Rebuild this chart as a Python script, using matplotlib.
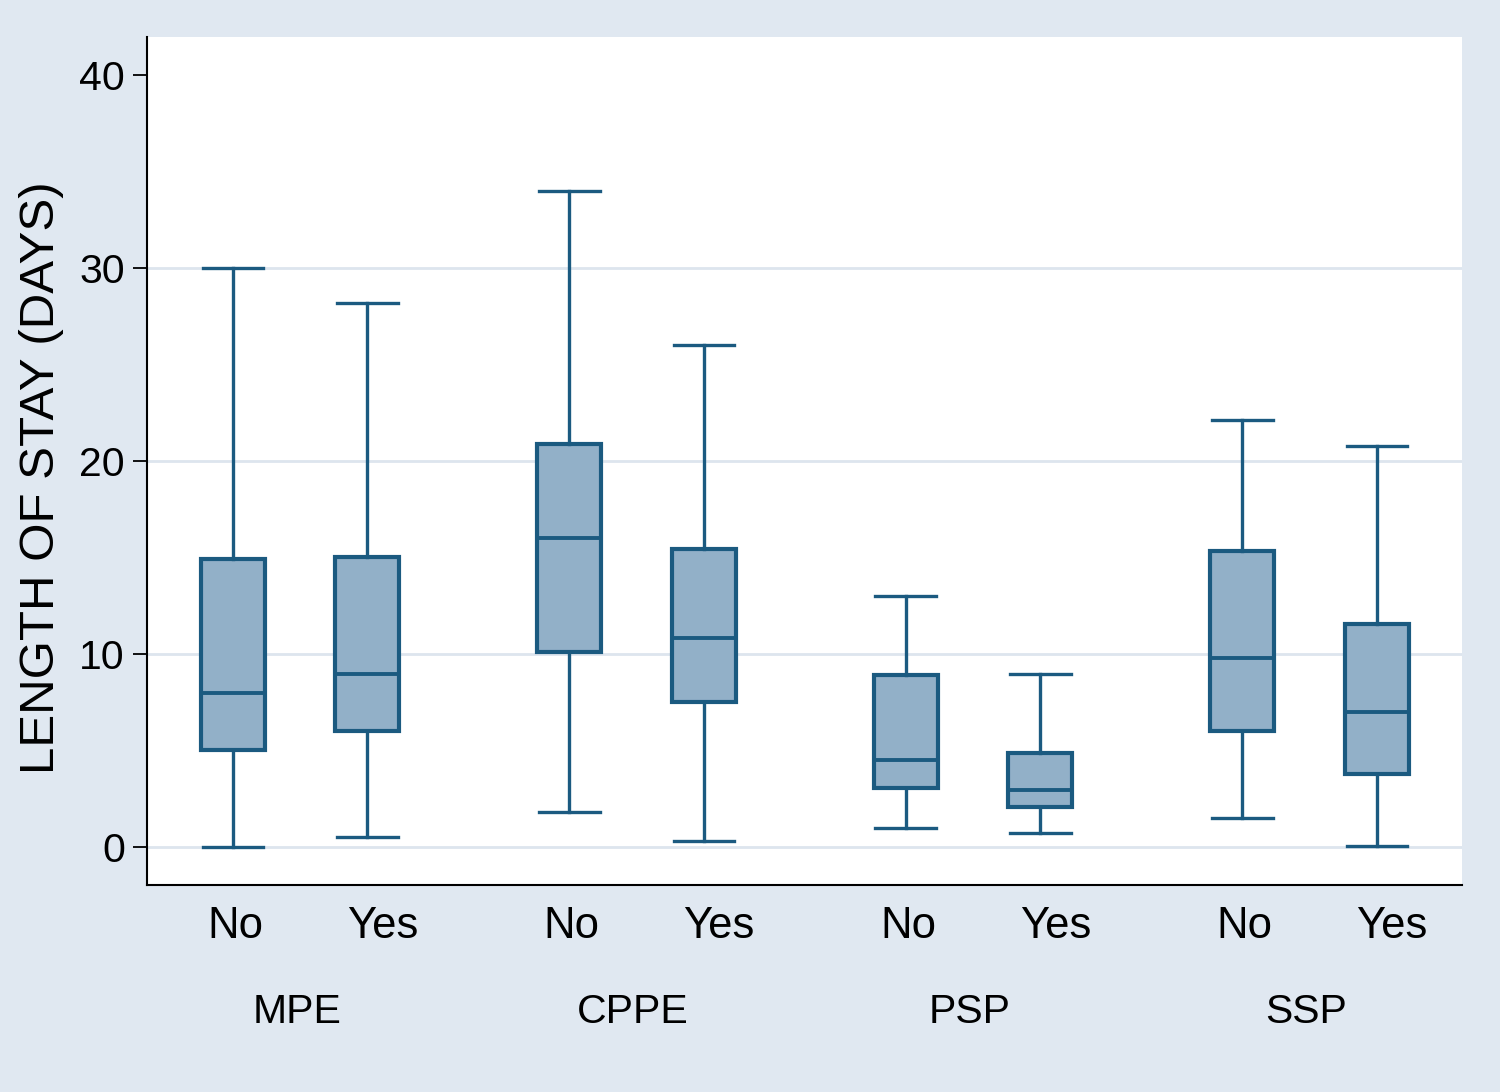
import matplotlib
matplotlib.use("Agg")
import matplotlib.pyplot as plt

# box statistics (days)
groups = ["MPE", "CPPE", "PSP", "SSP"]
subs = ["No", "Yes"]
whislo = [0.0, 0.5, 1.8, 0.3, 1.0, 0.7, 1.5, 0.05]
q1 = [5.0, 6.0, 10.1, 7.5, 3.05, 2.05, 6.0, 3.8]
med = [8.0, 8.95, 16.0, 10.85, 4.5, 2.95, 9.8, 7.0]
q3 = [14.9, 15.0, 20.9, 15.45, 8.9, 4.85, 15.35, 11.55]
whishi = [30.0, 28.2, 34.0, 26.0, 13.0, 8.95, 22.1, 20.8]
yticks = [0, 10, 20, 30, 40]

navy = "#1b5a80"
fill = "#92b0c8"
bg = "#e0e8f1"

plt.rcParams['font.family'] = ['Liberation Sans', 'DejaVu Sans']

fig = plt.figure(figsize=(15, 10.92), dpi=100, facecolor=bg)
ax = fig.add_axes([147/1500, 1 - 885/1092, (1462-147)/1500, (885-37)/1092])
ax.set_facecolor("white")

stats = []
positions = []
for i in range(len(med)):
    stats.append(dict(whislo=whislo[i], q1=q1[i], med=med[i], q3=q3[i],
                      whishi=whishi[i], fliers=[]))
    positions.append(i // 2 + (-0.2 if i % 2 == 0 else 0.2))

ax.bxp(stats, positions=positions, widths=0.19, patch_artist=True,
       showfliers=False, capwidths=0.18,
       boxprops=dict(facecolor=fill, edgecolor=navy, linewidth=3.0),
       medianprops=dict(color=navy, linewidth=2.8),
       whiskerprops=dict(color=navy, linewidth=2.4),
       capprops=dict(color=navy, linewidth=2.4))

for y in yticks[:-1]:
    ax.axhline(y, color="#dde5ee", linewidth=2, zorder=0)

ax.set_xlim(-0.455, 3.453)
ax.set_ylim(-1.97, 41.97)
ax.set_yticks(yticks)
ax.set_yticklabels([str(t) for t in yticks], fontsize=29.5)
ax.tick_params(axis="y", length=10, width=1.3, pad=6)
ax.set_xticks([])

for s in ["top", "right"]:
    ax.spines[s].set_visible(False)
for s in ["left", "bottom"]:
    ax.spines[s].set_linewidth(1.5)
    ax.spines[s].set_color("black")

tr = ax.get_xaxis_transform()
for i, p in enumerate(positions):
    off = 0.007 if i % 2 == 0 else 0.045
    ax.text(p + off, -0.049, subs[i % 2], transform=tr, ha="center",
            va="center", fontsize=31.5)
for g, name in enumerate(groups):
    ax.text(g - 0.01, -0.15, name, transform=tr, ha="center", va="center",
            fontsize=29.5)

fig.text(42/1500, 1 - 478/1092, "LENGTH OF STAY (DAYS)", rotation=90,
         ha="center", va="center", fontsize=35.5)

fig.savefig("out.png", dpi=100, facecolor=bg)
